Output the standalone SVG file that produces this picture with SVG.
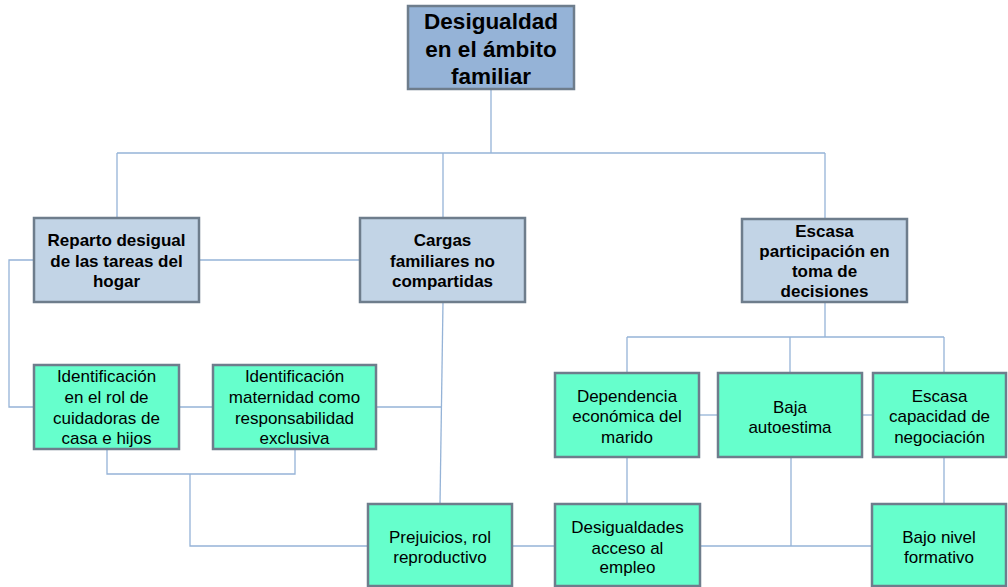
<svg xmlns="http://www.w3.org/2000/svg" width="1008" height="587" viewBox="0 0 1008 587">
  <style>
    .box { stroke: #6e7d8c; stroke-width: 2.5; }
    .root { fill: #95b3d7; }
    .mid { fill: #c2d4e6; }
    .leaf { fill: #66ffcc; }
    .conn { fill: none; stroke: #95b3d7; stroke-width: 1.3; }
    text { font-family: "Liberation Sans", Arial, sans-serif; fill: #000; text-anchor: middle; }
    .tb { font-weight: bold; font-size: 17px; }
    .tr { font-size: 17px; }
    .tt { font-weight: bold; font-size: 22.5px; }
  </style>

  <rect width="1008" height="587" fill="#ffffff"/>

  <g id="connectors" class="conn">
    <path d="M491,89 V153"/>
    <path d="M117,153 H825"/>
    <path d="M117,153 V218"/>
    <path d="M443,153 V218"/>
    <path d="M825,153 V219"/>
    <path d="M199,260 H360"/>
    <path d="M34,260 H9 V407 H34"/>
    <path d="M179,407 H213"/>
    <path d="M376,407 H441"/>
    <path d="M443,302 L440,504"/>
    <path d="M107,449 V474 H295 V449"/>
    <path d="M190,474 V546 H368"/>
    <path d="M512,546 H555"/>
    <path d="M700,546 H872"/>
    <path d="M791,457 V546"/>
    <path d="M825,302 V337"/>
    <path d="M627,337 H944"/>
    <path d="M627,337 V373"/>
    <path d="M790,337 V373"/>
    <path d="M944,337 V373"/>
    <path d="M699,415 H718"/>
    <path d="M862,415 H873"/>
    <path d="M627,457 V504"/>
    <path d="M944,457 V504"/>
  </g>

  <g id="desigualdad-familiar">
    <rect class="box root" x="408" y="6" width="166" height="83"/>
    <text class="tt" x="491" y="29">Desigualdad</text>
    <text class="tt" x="491" y="57">en el ámbito</text>
    <text class="tt" x="491" y="84">familiar</text>
  </g>

  <g id="reparto-desigual">
    <rect class="box mid" x="34" y="218" width="165" height="84"/>
    <text class="tb" x="116.5" y="246">Reparto desigual</text>
    <text class="tb" x="116.5" y="267">de las tareas del</text>
    <text class="tb" x="116.5" y="287">hogar</text>
  </g>

  <g id="cargas-familiares">
    <rect class="box mid" x="360" y="218" width="165" height="84"/>
    <text class="tb" x="442.5" y="246">Cargas</text>
    <text class="tb" x="442.5" y="267">familiares no</text>
    <text class="tb" x="442.5" y="287">compartidas</text>
  </g>

  <g id="escasa-participacion">
    <rect class="box mid" x="742" y="219" width="165" height="83"/>
    <text class="tb" x="824.5" y="237">Escasa</text>
    <text class="tb" x="824.5" y="257">participación en</text>
    <text class="tb" x="824.5" y="277">toma de</text>
    <text class="tb" x="824.5" y="297">decisiones</text>
  </g>

  <g id="identificacion-rol">
    <rect class="box leaf" x="34" y="365" width="145" height="84"/>
    <text class="tr" x="106.5" y="382">Identificación</text>
    <text class="tr" x="106.5" y="403">en el rol de</text>
    <text class="tr" x="106.5" y="424">cuidadoras de</text>
    <text class="tr" x="106.5" y="444">casa e hijos</text>
  </g>

  <g id="identificacion-maternidad">
    <rect class="box leaf" x="213" y="365" width="163" height="84"/>
    <text class="tr" x="294.5" y="382">Identificación</text>
    <text class="tr" x="294.5" y="403">maternidad como</text>
    <text class="tr" x="294.5" y="424">responsabilidad</text>
    <text class="tr" x="294.5" y="444">exclusiva</text>
  </g>

  <g id="dependencia-economica">
    <rect class="box leaf" x="555" y="373" width="144" height="84"/>
    <text class="tr" x="627" y="402">Dependencia</text>
    <text class="tr" x="627" y="422">económica del</text>
    <text class="tr" x="627" y="443">marido</text>
  </g>

  <g id="baja-autoestima">
    <rect class="box leaf" x="718" y="373" width="144" height="84"/>
    <text class="tr" x="790" y="413">Baja</text>
    <text class="tr" x="790" y="433">autoestima</text>
  </g>

  <g id="escasa-negociacion">
    <rect class="box leaf" x="873" y="373" width="133" height="84"/>
    <text class="tr" x="939.5" y="402">Escasa</text>
    <text class="tr" x="939.5" y="422">capacidad de</text>
    <text class="tr" x="939.5" y="443">negociación</text>
  </g>

  <g id="prejuicios">
    <rect class="box leaf" x="368" y="504" width="144" height="82"/>
    <text class="tr" x="440" y="543">Prejuicios, rol</text>
    <text class="tr" x="440" y="563">reproductivo</text>
  </g>

  <g id="desigualdades-empleo">
    <rect class="box leaf" x="555" y="504" width="145" height="82"/>
    <text class="tr" x="627.5" y="533">Desigualdades</text>
    <text class="tr" x="627.5" y="554">acceso al</text>
    <text class="tr" x="627.5" y="573">empleo</text>
  </g>

  <g id="bajo-nivel-formativo">
    <rect class="box leaf" x="872" y="504" width="134" height="82"/>
    <text class="tr" x="939" y="543">Bajo nivel</text>
    <text class="tr" x="939" y="563">formativo</text>
  </g>
</svg>
